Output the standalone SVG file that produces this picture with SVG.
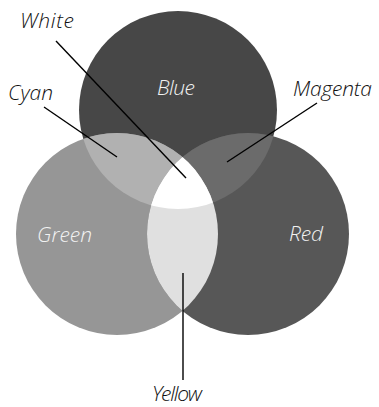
<svg xmlns="http://www.w3.org/2000/svg" width="379" height="407" viewBox="0 0 379 407">
<style>
.lbl{font-family:"Open Sans","Liberation Sans",sans-serif;font-style:italic;font-weight:300;font-size:21px;}
.dark{fill:#111;}
.light{fill:#f2f2f2;}
.con{stroke:#000;stroke-width:1.4;fill:none;}
</style>
<defs>
<clipPath id="cBlue"><circle cx="178" cy="110" r="99"/></clipPath>
<clipPath id="cGreen"><circle cx="117" cy="234" r="101"/></clipPath>
<clipPath id="cRed"><circle cx="248" cy="234" r="101"/></clipPath>
</defs>
<rect width="379" height="407" fill="#fff"/>
<g id="blue"><circle cx="178" cy="110" r="99" fill="#474747"/><text class="lbl light" x="157" y="95" textLength="38">Blue</text></g>
<g id="green"><circle cx="117" cy="234" r="101" fill="#969696"/><text class="lbl light" x="37" y="242" textLength="55">Green</text></g>
<g id="red"><circle cx="248" cy="234" r="101" fill="#575757"/><text class="lbl light" x="289" y="241" textLength="34">Red</text></g>
<g id="cyan-region" clip-path="url(#cBlue)"><circle cx="117" cy="234" r="101" fill="#b1b1b1"/></g>
<g id="magenta-region" clip-path="url(#cBlue)"><circle cx="248" cy="234" r="101" fill="#6b6b6b"/></g>
<g id="yellow-region" clip-path="url(#cGreen)"><circle cx="248" cy="234" r="101" fill="#e0e0e0"/></g>
<g id="white-region" clip-path="url(#cGreen)"><g clip-path="url(#cRed)"><circle cx="178" cy="110" r="99" fill="#ffffff"/></g></g>
<g id="connectors">
<line class="con" x1="56" y1="41" x2="186" y2="178"/>
<line class="con" x1="44" y1="107" x2="117" y2="157"/>
<line class="con" x1="317" y1="103" x2="227" y2="162"/>
<line class="con" x1="183" y1="273" x2="183" y2="380"/>
</g>
<g id="white"><text class="lbl dark" x="20" y="28" textLength="54">White</text></g>
<g id="cyan"><text class="lbl dark" x="8" y="100" textLength="45">Cyan</text></g>
<g id="magenta"><text class="lbl dark" x="293" y="96" textLength="79">Magenta</text></g>
<g id="yellow"><text class="lbl dark" x="152" y="401" textLength="50">Yellow</text></g>
</svg>
